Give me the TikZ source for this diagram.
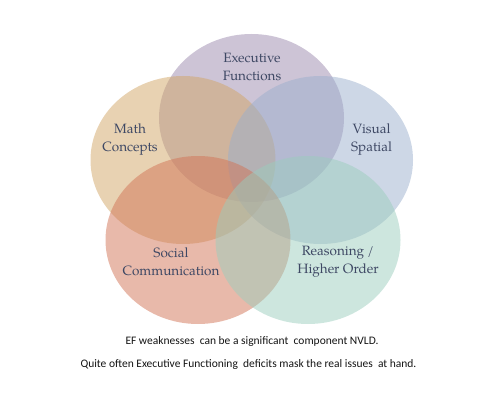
\documentclass[tikz,border=0pt]{standalone}
\usepackage{fontspec}
\setmainfont{TeX Gyre Pagella}[Extension=.otf,UprightFont=texgyrepagella-regular]
\newfontfamily\capfont{Carlito}
\definecolor{vnExec}{RGB}{155,137,173}
\definecolor{vnMath}{RGB}{209,165,101}
\definecolor{vnVisual}{RGB}{155,175,205}
\definecolor{vnSocial}{RGB}{209,115,85}
\definecolor{vnReason}{RGB}{155,205,189}
\definecolor{vnText}{RGB}{62,72,100}
\definecolor{vnCaption}{RGB}{20,20,20}

\begin{document}
\begin{tikzpicture}[x=1pt, y=-1pt,
    blob/.style={fill opacity=0.5},
    label/.style={text=vnText, align=center, font=\fontsize{13.5}{18}\selectfont},
    caption/.style={text=vnCaption, font=\capfont\fontsize{11.5}{14}\selectfont}
]
    \useasboundingbox (0,0) rectangle (502,409);

    % Circles
    \fill[blob, vnExec] (251.5,118) ellipse [x radius=92.5, y radius=84];
    \fill[blob, vnMath] (183,160) ellipse [x radius=92.5, y radius=84];
    \fill[blob, vnVisual] (320.5,160) ellipse [x radius=92.5, y radius=84];
    \fill[blob, vnSocial] (198,240) ellipse [x radius=92.5, y radius=84];
    \fill[blob, vnReason] (308,240) ellipse [x radius=92.5, y radius=84];

    % Labels
    \node[label] (exec) at (252,66.5) {Executive\\Functions};
    \node[label] (math) at (130,139.5) {Math\\Concepts};
    \node[label] (visual) at (371.5,139.5) {Visual\\Spatial};
    \node[label] (social) at (171,261.5) {Social\\Communication};
    \node[label] (reason) at (338,261.5) {Reasoning /\\Higher Order};

    % Caption
    \node[caption] (note1) at (252,341.5) {EF weaknesses\ \ can be a significant\ \ component NVLD.};
    \node[caption] (note2) at (248.5,364.5) {Quite often Executive Functioning\ \ deficits mask the real issues\ \ at hand.};
\end{tikzpicture}
\end{document}
